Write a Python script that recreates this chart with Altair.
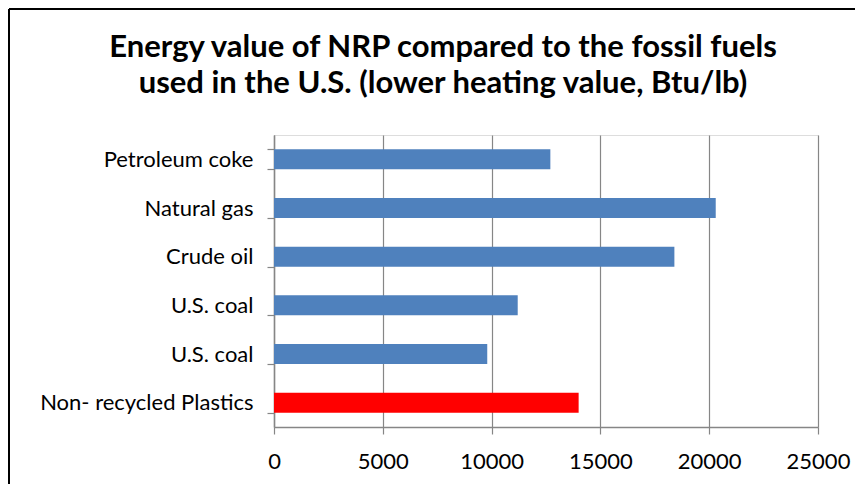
import json
import altair as alt
import pandas as pd

CATEGORIES = ["Petroleum coke", "Natural gas", "Crude oil\u00a0", "U.S. coal", "U.S. coal", "Non- recycled Plastics\u00a0"]
VALUES = [12700, 20300, 18400, 11200, 9800, 14000]
COLORS = ["#4F81BD", "#4F81BD", "#4F81BD", "#4F81BD", "#4F81BD", "#FF0000"]
X_TICKS = [0, 5000, 10000, 15000, 20000, 25000]
TITLE_LINES = ["Energy value of NRP compared to the fossil fuels",
               "used in the U.S. (lower heating value, Btu/lb)"]

df = pd.DataFrame({"idx": list(range(len(CATEGORIES))), "label": CATEGORIES,
                   "value": VALUES, "color": COLORS})

GREY = "#868686"
label_expr = json.dumps(CATEGORIES) + "[datum.value]"

bars = alt.Chart(df).mark_bar(size=20).encode(
    x=alt.X("value:Q", scale=alt.Scale(domain=[0, 25000], nice=False),
            axis=alt.Axis(values=X_TICKS, title=None, grid=True, gridColor=GREY,
                          gridWidth=1.2, domainColor=GREY, domainWidth=1.5,
                          tickColor=GREY, tickWidth=1.2, tickSize=7,
                          labelFontSize=22, labelFont="Lato", labelColor="#000",
                          labelPadding=17, labelFlush=False, format="d")),
    y=alt.Y("idx:O", scale=alt.Scale(paddingInner=0.59, paddingOuter=0.295),
            axis=alt.Axis(title=None, labelExpr=label_expr, tickBand="extent",
                          domainColor=GREY, domainWidth=1.5, tickColor=GREY,
                          tickWidth=1.2, tickSize=7,
                          labelFontSize=22, labelFont="Lato", labelColor="#000",
                          labelPadding=14, labelLimit=400)),
    color=alt.Color("color:N", scale=None),
)

one = alt.Data(values=[{}])
left_border = alt.Chart(one).mark_rule(color="#000", strokeWidth=2).encode(
    x=alt.value(-265), y=alt.value(-126), y2=alt.value(349))
top_border = alt.Chart(one).mark_rule(color="#000", strokeWidth=2).encode(
    x=alt.value(-265), x2=alt.value(581), y=alt.value(-126))
title = alt.Chart(one).mark_text(font="Lato", fontWeight="bold", fontSize=31,
                                 lineHeight=36, align="center", baseline="alphabetic",
                                 lineBreak="\n", color="#000").encode(
    x=alt.value(169), y=alt.value(-78), text=alt.value("\n".join(TITLE_LINES)))

chart = alt.layer(bars, left_border, top_border, title).properties(
    width=544, height=292, padding=0
).configure_view(stroke=None).configure(background="white")

chart.save("out.html", embed_options={"renderer": "svg", "actions": False})
